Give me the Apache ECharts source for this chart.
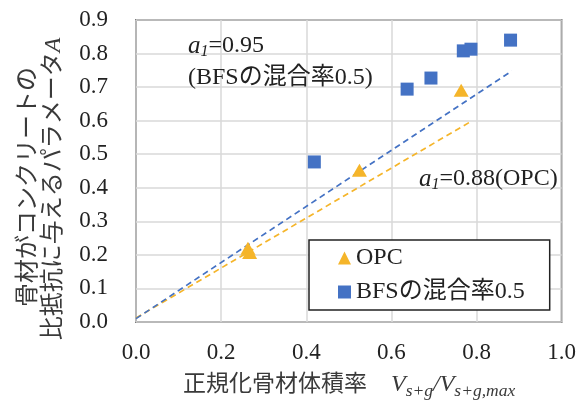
<!DOCTYPE html>
<html>
<head>
<meta charset="utf-8">
<script src="https://cdn.jsdelivr.net/npm/echarts@6/dist/echarts.min.js"></script>
<style>html,body{margin:0;padding:0;background:#fff;}#c{width:579px;height:405px;}</style>
</head>
<body>
<div id="c"></div>
<script>
// ---- data ----
const opcX = [0.263, 0.267, 0.525, 0.764];
const opcY = [0.220, 0.207, 0.452, 0.691];
const bfsX = [0.419, 0.637, 0.693, 0.769, 0.787, 0.880];
const bfsY = [0.477, 0.694, 0.727, 0.808, 0.813, 0.840];
const opcTrendX = [0, 0.79];
const opcTrendY = [0.012, 0.600];
const bfsTrendX = [0, 0.883];
const bfsTrendY = [0.010, 0.748];
const seriesNames = ['OPC', 'BFSの混合率0.5'];
const yNameLines = ['骨材がコンクリートの', '比抵抗に与えるパラメータ'];
const yNameItalic = 'A';
const xNameJa = '正規化骨材体積率';
const annoBfs1 = '=0.95';
const annoBfs2 = '(BFSの混合率0.5)';
const annoOpc = '=0.88(OPC)';

const FONT = "'Liberation Serif', 'Noto Sans CJK JP', serif";
const ORANGE = '#F5B52A';
const BLUE = '#4472C4';
const TXT = '#3a3a3a';
const zip = (xs, ys) => xs.map((x, i) => [x, ys[i]]);

const chart = echarts.init(document.getElementById('c'), null, {renderer: 'canvas'});
chart.setOption({
  animation: false,
  backgroundColor: '#fff',
  grid: {left: 136, right: 16, top: 20, bottom: 83, show: true, borderColor: '#262626', borderWidth: 1.6, containLabel: false},
  xAxis: {
    type: 'value', min: 0, max: 1, interval: 0.2,
    axisLine: {show: false}, axisTick: {show: false},
    splitLine: {show: true, lineStyle: {color: '#d9d9d9', width: 1.5}},
    axisLabel: {margin: 19, fontFamily: FONT, fontSize: 23, color: '#222', formatter: v => v.toFixed(1)}
  },
  yAxis: {
    type: 'value', min: 0, max: 0.9, interval: 0.1,
    axisLine: {show: false}, axisTick: {show: false},
    splitLine: {show: true, lineStyle: {color: '#d9d9d9', width: 1.5}},
    axisLabel: {margin: 28, fontFamily: FONT, fontSize: 23, color: '#222', formatter: v => v.toFixed(1)}
  },
  legend: {
    data: seriesNames,
    orient: 'vertical', left: 309, top: 240,
    backgroundColor: '#fff',
    borderColor: '#222', borderWidth: 1.5, borderRadius: 0,
    padding: [6, 25, 6, 29],
    itemGap: 10, itemWidth: 13, itemHeight: 13,
    textStyle: {fontFamily: FONT, fontSize: 24, color: '#222'}
  },
  series: [
    {type: 'line', data: zip(opcTrendX, opcTrendY), symbol: 'none', silent: true,
     lineStyle: {color: ORANGE, width: 1.7, type: [6, 4]}, z: 2},
    {type: 'line', data: zip(bfsTrendX, bfsTrendY), symbol: 'none', silent: true,
     lineStyle: {color: BLUE, width: 1.7, type: [6, 4]}, z: 2},
    {name: seriesNames[0], type: 'scatter', data: zip(opcX, opcY), symbol: 'triangle', symbolSize: [15, 13],
     itemStyle: {color: ORANGE, opacity: 1}, z: 3},
    {name: seriesNames[1], type: 'scatter', data: zip(bfsX, bfsY), symbol: 'rect', symbolSize: 13,
     itemStyle: {color: BLUE, opacity: 1}, z: 3}
  ],
  graphic: [
    {type: 'text', x: 29, y: 187, rotation: Math.PI / 2,
     style: {text: yNameLines[0], fontFamily: FONT, fontSize: 24, fill: TXT, align: 'center', verticalAlign: 'middle'}},
    {type: 'text', x: 54, y: 189, rotation: Math.PI / 2,
     style: {text: yNameLines[1] + '{i|' + yNameItalic + '}', fontFamily: FONT, fontSize: 24, fill: TXT, align: 'center', verticalAlign: 'middle',
       rich: {i: {fontFamily: FONT, fontStyle: 'italic', fontSize: 24, fill: TXT}}}},
    {type: 'text', x: 183, y: 385,
     style: {text: xNameJa, fontFamily: FONT, fontSize: 23, fill: TXT, align: 'left', verticalAlign: 'middle'}},
    {type: 'text', x: 391, y: 385,
     style: {text: '{v|V}{s|s+g}{v|/V}{s|s+g,max}', fontFamily: FONT, align: 'left', verticalAlign: 'middle',
       rich: {
         v: {fontFamily: FONT, fontStyle: 'italic', fontSize: 24, fill: TXT, lineHeight: 30, verticalAlign: 'middle'},
         s: {fontFamily: FONT, fontStyle: 'italic', fontSize: 17.5, fill: TXT, lineHeight: 18, verticalAlign: 'bottom'}
       }}},
    {type: 'text', x: 188, y: 46, z: 10,
     style: {text: '{a|a}{s|1}' + annoBfs1, fontFamily: FONT, fontSize: 24, fill: '#222', align: 'left', verticalAlign: 'middle',
       rich: {
         a: {fontFamily: FONT, fontStyle: 'italic', fontSize: 25, fill: '#222', lineHeight: 28, verticalAlign: 'middle'},
         s: {fontFamily: FONT, fontStyle: 'italic', fontSize: 16, fill: '#222', lineHeight: 18, verticalAlign: 'bottom'}
       }}},
    {type: 'text', x: 188, y: 78, z: 10,
     style: {text: annoBfs2, fontFamily: FONT, fontSize: 24, fill: '#222', align: 'left', verticalAlign: 'middle'}},
    {type: 'text', x: 419, y: 179, z: 10,
     style: {text: '{a|a}{s|1}' + annoOpc, fontFamily: FONT, fontSize: 24, fill: '#222', align: 'left', verticalAlign: 'middle',
       rich: {
         a: {fontFamily: FONT, fontStyle: 'italic', fontSize: 25, fill: '#222', lineHeight: 28, verticalAlign: 'middle'},
         s: {fontFamily: FONT, fontStyle: 'italic', fontSize: 16, fill: '#222', lineHeight: 18, verticalAlign: 'bottom'}
       }}}
  ]
});
</script>
</body>
</html>
